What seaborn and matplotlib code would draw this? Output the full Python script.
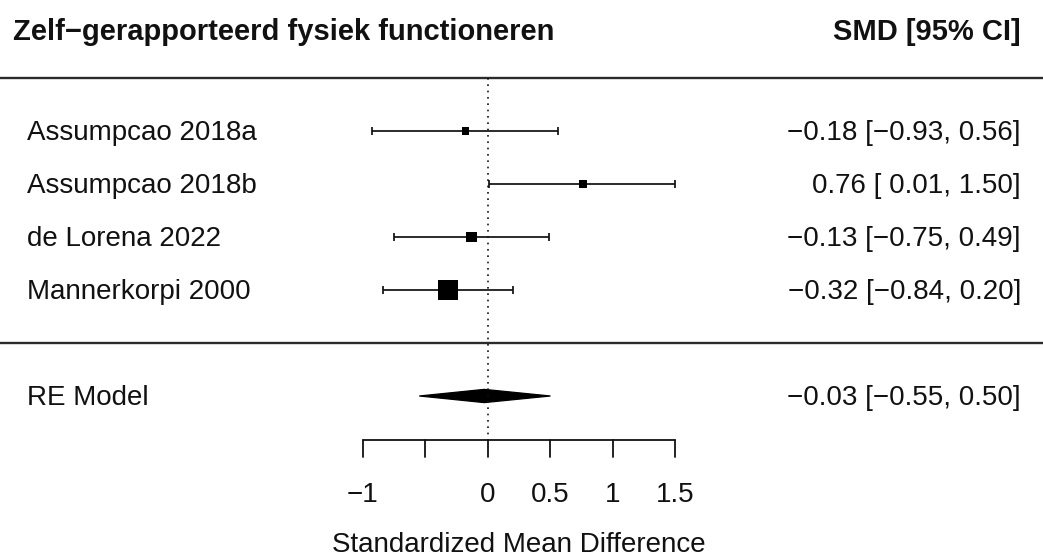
import matplotlib
matplotlib.use("Agg")
import matplotlib.pyplot as plt
import seaborn as sns
import pandas as pd
import numpy as np
from matplotlib.patches import Polygon

# Study-level results (standardized mean differences with 95% CI)
studies = ["Assumpcao 2018a", "Assumpcao 2018b", "de Lorena 2022", "Mannerkorpi 2000"]
smd = [-0.18, 0.76, -0.13, -0.32]
ci_low = [-0.93, 0.01, -0.75, -0.84]
ci_high = [0.56, 1.50, 0.49, 0.20]
weights = [22.5, 22.5, 24.5, 30.5]  # random-effects weights (%)

# Pooled random-effects estimate
pooled_label = "RE Model"
pooled_est = -0.03
pooled_low = -0.55
pooled_high = 0.50

title = "Zelf\u2212gerapporteerd fysiek functioneren"
col_header = "SMD [95% CI]"
x_label = "Standardized Mean Difference"
tick_values = [-1, -0.5, 0, 0.5, 1, 1.5]
tick_labels = ["\u22121", "", "0", "0.5", "1", "1.5"]

sns.set_theme(style="white")
plt.rcParams["font.family"] = ["Liberation Sans", "DejaVu Sans"]
FS = 20
INK = "#111111"
TXT_DY = 0.04  # small downward nudge so text sits centred on its row

fig = plt.figure(figsize=(10.43, 5.58), dpi=100)
ax = fig.add_axes([0, 0, 1, 1])
ax.set_xlim(-3.904, 4.44)
ax.set_ylim(9.057, -1.472)
ax.axis("off")

rows = np.arange(1, len(studies) + 1)
pooled_row = len(studies) + 2
axis_y = 6.83

df = pd.DataFrame({"study": studies, "smd": smd, "lo": ci_low, "hi": ci_high,
                   "w": weights, "row": rows})

# square side grows with the study weight (metafor-style scaling)
wn = (df["w"] - df["w"].min()) / (df["w"].max() - df["w"].min())
side_px = 7.7 + 12.0 * wn
side_pt = side_px * 72 / fig.dpi

# separators
ax.axhline(0, color="#2b2b2b", lw=1.7)
ax.axhline(pooled_row - 1, color="#2b2b2b", lw=1.7)

# reference line at zero
ax.plot([0, 0], [0, axis_y], color=INK, lw=1.2, ls=(0, (1, 2.8)))

# confidence intervals with end caps
ax.errorbar(df["smd"], df["row"],
            xerr=[df["smd"] - df["lo"], df["hi"] - df["smd"]],
            fmt="none", ecolor=INK, elinewidth=1.25, capsize=2.6, capthick=1.25)

# point estimates
sns.scatterplot(data=df, x="smd", y="row", marker="s", s=side_pt ** 2,
                color="black", edgecolor="none", linewidth=0, ax=ax,
                legend=False, zorder=3)

# pooled diamond
half_h = 0.125
ax.add_patch(Polygon([[pooled_low, pooled_row], [pooled_est, pooled_row - half_h],
                      [pooled_high, pooled_row], [pooled_est, pooled_row + half_h]],
                     closed=True, facecolor="black", edgecolor="black", lw=0.9))

# x axis
ax.plot([tick_values[0], tick_values[-1]], [axis_y, axis_y], color=INK, lw=1.3)
for t, lab in zip(tick_values, tick_labels):
    ax.plot([t, t], [axis_y, axis_y + 0.32], color=INK, lw=1.3)
    if lab:
        ax.text(t, 7.83 + TXT_DY, lab, ha="center", va="center", fontsize=FS, color=INK)
ax.text((tick_values[0] + tick_values[-1]) / 2, 8.77 + TXT_DY, x_label,
        ha="center", va="center", fontsize=FS, color=INK)


def fmt(v, width=0):
    return f"{v:{width}.2f}".replace("-", "\u2212")


label_x = -3.69
value_x = 4.264
for _, r in df.iterrows():
    ax.text(label_x, r["row"] + TXT_DY, r["study"], ha="left", va="center",
            fontsize=FS, color=INK)
    ax.text(value_x, r["row"] + TXT_DY,
            f"{fmt(r['smd'])} [{fmt(r['lo'], 5)}, {fmt(r['hi'])}]",
            ha="right", va="center", fontsize=FS, color=INK)

ax.text(label_x, pooled_row + TXT_DY, pooled_label, ha="left", va="center",
        fontsize=FS, color=INK)
ax.text(value_x, pooled_row + TXT_DY,
        f"{fmt(pooled_est)} [{fmt(pooled_low, 5)}, {fmt(pooled_high)}]",
        ha="right", va="center", fontsize=FS, color=INK)

# header
ax.text(-3.8, -0.906 + TXT_DY, title, ha="left", va="center", fontsize=21,
        fontweight="bold", color=INK)
ax.text(value_x, -0.906 + TXT_DY, col_header, ha="right", va="center", fontsize=21,
        fontweight="bold", color=INK)

fig.savefig("out.png", dpi=100)
